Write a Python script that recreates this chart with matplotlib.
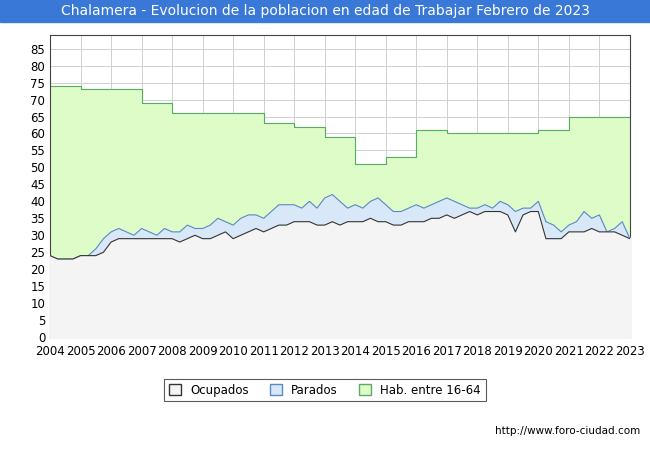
import matplotlib as mpl
mpl.use('Agg')
import matplotlib.pyplot as plt
import numpy as np

# Hab. entre 16-64 (step, value from that year on)
hab_years = [2004, 2005, 2007, 2008, 2011, 2012, 2013, 2014, 2015, 2016, 2017, 2020, 2021, 2023.2]
hab_vals = [74, 73, 69, 66, 63, 62, 59, 51, 53, 61, 60, 61, 65, 65]

# quarterly values from 2004 Q1 to 2023 Q1
ocupados = [24, 23, 23, 23, 24, 24, 24, 25, 28, 29, 29, 29, 29, 29, 29, 29,
            29, 28, 29, 30, 29, 29, 30, 31, 29, 30, 31, 32, 31, 32, 33, 33,
            34, 34, 34, 33, 33, 34, 33, 34, 34, 34, 35, 34, 34, 33, 33, 34,
            34, 34, 35, 35, 36, 35, 36, 37, 36, 37, 37, 37, 36, 31, 36, 37,
            37, 29, 29, 29, 31, 31, 31, 32, 31, 31, 31, 30, 29]
total = [24, 23, 23, 23, 24, 24, 26, 29, 31, 32, 31, 30, 32, 31, 30, 32,
         31, 31, 33, 32, 32, 33, 35, 34, 33, 35, 36, 36, 35, 37, 39, 39,
         39, 38, 40, 38, 41, 42, 40, 38, 39, 38, 40, 41, 39, 37, 37, 38,
         39, 38, 39, 40, 41, 40, 39, 38, 38, 39, 38, 40, 39, 37, 38, 38,
         40, 34, 33, 31, 33, 34, 37, 35, 36, 31, 32, 34, 29]
parados = [t - o for t, o in zip(total, ocupados)]

x = 2004 + 0.25 * np.arange(len(ocupados))
ocup = np.array(ocupados)
tot = ocup + np.array(parados)

fig = plt.figure(figsize=(6.5, 4.5), dpi=100)
fig.patches.append(plt.Rectangle((0, 0.951), 1, 0.049, transform=fig.transFigure,
                                 color='#3a78d8', zorder=0))
fig.text(0.5, 0.975, 'Chalamera - Evolucion de la poblacion en edad de Trabajar Febrero de 2023',
         ha='center', va='center', color='white', fontsize=10)

ax = fig.add_axes([0.077, 0.251, 0.892, 0.671])
ax.set_facecolor('white')
ax.fill_between(hab_years, hab_vals, step='post', color='#ddfcc8', zorder=1)
ax.step(hab_years, hab_vals, where='post', color='#5aaa6a', lw=0.8, zorder=2)
ax.fill_between(x, tot, color='#d8e8f8', zorder=3)
ax.plot(x, tot, color='#5a8ac0', lw=0.8, zorder=4)
ax.fill_between(x, ocup, color='#f4f4f4', zorder=5)
ax.plot(x, ocup, color='#333333', lw=0.8, zorder=6)

ax.set_xlim(2004, 2023)
ax.set_ylim(0, 89)
ax.set_xticks(range(2004, 2024))
ax.set_yticks(range(0, 90, 5))
ax.tick_params(labelsize=8.5, length=0)
ax.tick_params(axis='x', pad=6)
ax.grid(True, color='#d0d0d0', lw=0.7, zorder=0)
ax.set_axisbelow(True)
for s in ax.spines.values():
    s.set_color('#444444')

handles = [plt.Rectangle((0, 0), 1, 1, fc='#f4f4f4', ec='#333333'),
           plt.Rectangle((0, 0), 1, 1, fc='#d8e8f8', ec='#5a8ac0'),
           plt.Rectangle((0, 0), 1, 1, fc='#ddfcc8', ec='#5aaa6a')]
leg = fig.legend(handles, ['Ocupados', 'Parados', 'Hab. entre 16-64'], loc='center',
                 bbox_to_anchor=(0.5, 0.133), ncol=3, fontsize=8.5, fancybox=False,
                 edgecolor='#333333', handlelength=1, handleheight=1, columnspacing=1.8)
leg.get_frame().set_linewidth(0.8)
fig.text(0.985, 0.035, 'http://www.foro-ciudad.com', ha='right', fontsize=7.5)

plt.savefig('out.png')
